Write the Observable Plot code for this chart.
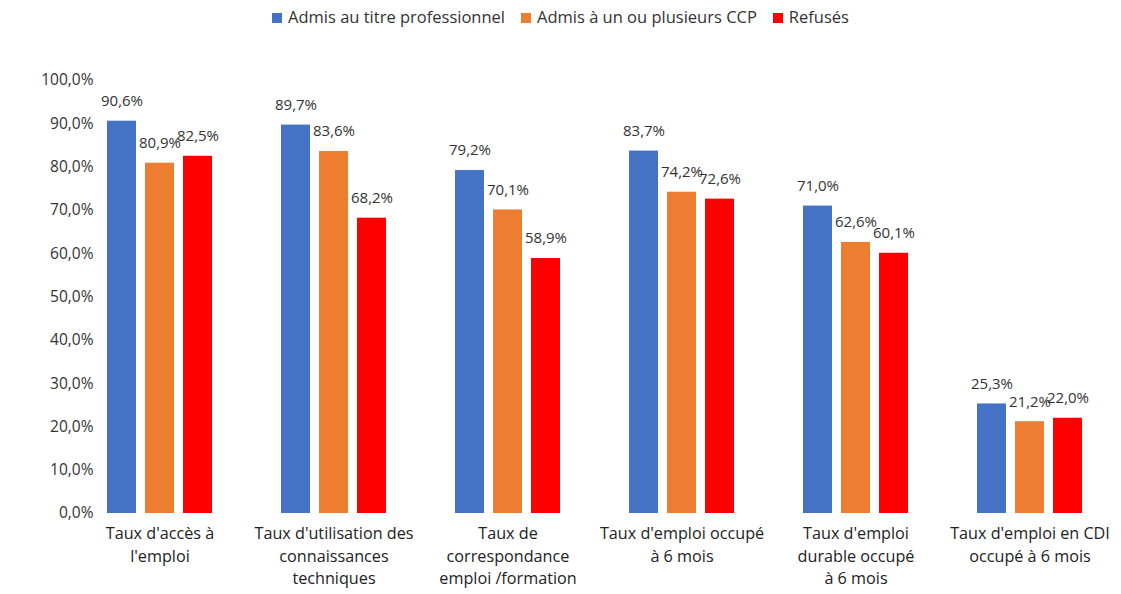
<!DOCTYPE html>
<html>
<head>
<meta charset="utf-8">
<script src="https://cdn.jsdelivr.net/npm/d3@7"></script>
<script src="https://cdn.jsdelivr.net/npm/@observablehq/plot@0.6"></script>
<style>
  body { margin: 0; background: #fff; font-family: "Open Sans", sans-serif; }
  #legend { height: 32px; display: flex; justify-content: center; align-items: center; gap: 16px; font-size: 16.5px; color: #333; padding-left: 0px; }
  #legend span.sw { display: inline-block; width: 10px; height: 10px; margin-right: 6px; vertical-align: 0px; }
</style>
</head>
<body>
<div id="legend"></div>
<div id="chart"></div>
<script>
const categories = [
  "Taux d'accès à\nl'emploi",
  "Taux d'utilisation des\nconnaissances\ntechniques",
  "Taux de\ncorrespondance\nemploi /formation",
  "Taux d'emploi occupé\nà 6 mois",
  "Taux d'emploi\ndurable occupé\nà 6 mois",
  "Taux d'emploi en CDI\noccupé à 6 mois"
];
const seriesNames = ["Admis au titre professionnel", "Admis à un ou plusieurs CCP", "Refusés"];
const seriesColors = ["#4472C4", "#ED7D31", "#FF0000"];
const admisTitre = [90.6, 89.7, 79.2, 83.7, 71.0, 25.3];
const admisCCP = [80.9, 83.6, 70.1, 74.2, 62.6, 21.2];
const refuses = [82.5, 68.2, 58.9, 72.6, 60.1, 22.0];
const yTicks = [0, 10, 20, 30, 40, 50, 60, 70, 80, 90, 100];

const seriesValues = [admisTitre, admisCCP, refuses];
const data = [];
categories.forEach((c, i) => {
  seriesNames.forEach((s, j) => data.push({category: c, series: s, value: seriesValues[j][i]}));
});
const fmt = d => d.toFixed(1).replace(".", ",") + "%";

const legend = document.getElementById("legend");
seriesNames.forEach((s, j) => {
  const item = document.createElement("span");
  item.innerHTML = `<span class="sw" style="background:${seriesColors[j]}"></span>${s}`;
  legend.appendChild(item);
});

const chart = Plot.plot({
  width: 1121,
  height: 562,
  marginTop: 48,
  marginBottom: 81,
  marginLeft: 72,
  marginRight: 5,
  style: {fontFamily: "'Open Sans', sans-serif", fontSize: "15px", color: "#333"},
  fx: {domain: categories, paddingInner: 0.397, paddingOuter: 0.1985, label: null},
  x: {domain: seriesNames, paddingInner: 0.24, paddingOuter: 0, axis: null},
  y: {domain: [0, 100], label: null},
  color: {domain: seriesNames, range: seriesColors},
  marks: [
    Plot.axisY({ticks: yTicks, tickFormat: fmt, tickSize: 0, tickPadding: 14, label: null, fontSize: 15.5, fill: "#333"}),
    Plot.axisFx({anchor: "bottom", tickSize: 0, tickPadding: 10, label: null, lineHeight: 1.38, fontSize: 16.2, fill: "#222"}),
    Plot.barY(data, {fx: "category", x: "series", y: "value", fill: "series"}),
    Plot.text(data, {fx: "category", x: "series", y: "value", text: d => fmt(d.value), dy: -20, fontSize: 15, fill: "#333"})
  ]
});
document.getElementById("chart").appendChild(chart);
</script>
</body>
</html>
